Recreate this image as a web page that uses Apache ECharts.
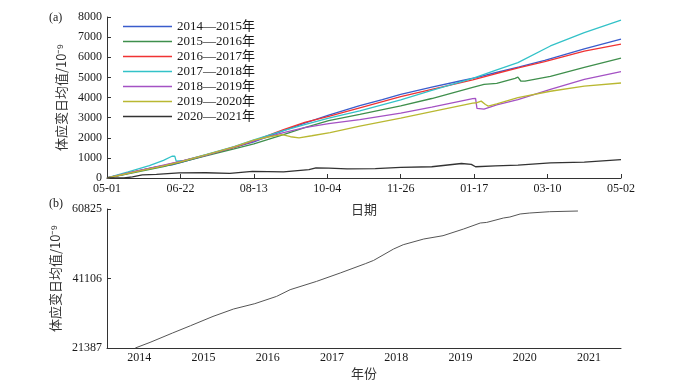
<!DOCTYPE html>
<html>
<head>
<meta charset="utf-8">
<script src="https://cdn.jsdelivr.net/npm/echarts@6/dist/echarts.min.js"></script>
<style>
  html, body { margin: 0; padding: 0; background: #fff; }
  #chart { width: 673px; height: 390px; }
</style>
</head>
<body>
<div id="chart"></div>
<script>
// (a) 各年度体应变日均值累积, x 为自 05-01 起的天数
const dayTicks = ['05-01', '06-22', '08-13', '10-04', '11-26', '01-17', '03-10', '05-02']
const tickStep = 52
const seasonNames = ['2014—2015年', '2015—2016年', '2016—2017年', '2017—2018年', '2018—2019年', '2019—2020年', '2020—2021年']
const seasonColors = ['#3a5ccc', '#3f8f4c', '#f03333', '#33c2c8', '#a452c4', '#b9b832', '#333333']

const s1415 = [[0, 0], [15, 230], [30, 480], [36, 560], [40, 600], [46, 650], [52, 760], [70, 1130], [90, 1520], [104, 1790], [125, 2350], [140, 2730], [157, 3130], [179, 3600], [195, 3900], [208, 4160], [230, 4520], [250, 4820], [262, 5000], [275, 5230], [292, 5520], [310, 5850], [338, 6420], [364, 6900]]
const s1516 = [[0, 0], [20, 280], [40, 560], [52, 780], [70, 1100], [90, 1450], [104, 1700], [125, 2150], [140, 2500], [157, 2850], [179, 3160], [208, 3580], [230, 3950], [259, 4500], [267, 4650], [276, 4700], [289, 4950], [291, 5010], [293, 4820], [296, 4810], [314, 5050], [338, 5500], [364, 5960]]
const s1617 = [[0, 0], [20, 330], [40, 620], [52, 820], [70, 1150], [90, 1520], [104, 1850], [125, 2400], [140, 2760], [157, 3060], [179, 3490], [208, 4040], [230, 4400], [259, 4870], [275, 5180], [292, 5480], [310, 5780], [338, 6300], [364, 6650]]
const s1718 = [[0, 0], [15, 300], [30, 620], [40, 880], [46, 1080], [48, 1090], [49, 840], [55, 880], [70, 1160], [90, 1560], [104, 1900], [125, 2350], [140, 2650], [157, 2980], [179, 3330], [208, 3880], [230, 4350], [259, 4950], [275, 5350], [291, 5730], [314, 6560], [338, 7220], [364, 7850]]
const s1819 = [[0, 0], [20, 330], [40, 640], [52, 830], [70, 1130], [90, 1550], [104, 1850], [125, 2250], [140, 2500], [157, 2700], [179, 2900], [208, 3220], [230, 3520], [259, 3940], [261, 3960], [262, 3460], [267, 3420], [276, 3630], [291, 3900], [314, 4400], [338, 4900], [364, 5290]]
const s1920 = [[0, 0], [20, 300], [40, 600], [52, 800], [70, 1150], [90, 1550], [104, 1880], [115, 2050], [124, 2160], [130, 2050], [136, 1990], [145, 2100], [158, 2260], [179, 2580], [208, 2970], [230, 3300], [259, 3720], [262, 3740], [265, 3820], [268, 3650], [270, 3570], [276, 3680], [291, 3990], [314, 4310], [338, 4570], [364, 4720]]
const s2021 = [[0, 0], [12, 0], [18, 60], [25, 160], [35, 180], [51, 250], [70, 260], [87, 230], [103, 330], [125, 300], [143, 420], [148, 505], [157, 490], [170, 450], [190, 470], [208, 525], [230, 560], [251, 720], [258, 680], [261, 560], [275, 600], [291, 640], [314, 755], [338, 785], [364, 910]]
const seasonData = [s1415, s1516, s1617, s1718, s1819, s1920, s2021]

// (b) 年份序列
const yearLabels = ['2014', '2015', '2016', '2017', '2018', '2019', '2020', '2021']
const bTicks = [21387, 41106, 60825]
const cumulative = [[2014.44, 21387], [2014.67, 22980], [2015.02, 25640], [2015.3, 27710], [2015.65, 30350], [2015.97, 32450], [2016.3, 33960], [2016.64, 36030], [2016.85, 37930], [2017.26, 40280], [2017.63, 42670], [2018.02, 45300], [2018.15, 46240], [2018.46, 49470], [2018.61, 50690], [2018.93, 52310], [2019.23, 53250], [2019.26, 52880], [2019.55, 55150], [2019.81, 56850], [2019.91, 57020], [2020.17, 58270], [2020.27, 58550], [2020.43, 59410], [2020.58, 59690], [2020.89, 60060], [2021.33, 60250]]

const serif = "'Liberation Serif', 'Noto Sans CJK SC', serif"
const cjk = "'Noto Sans CJK SC', sans-serif"
const axisColor = '#333'
const textColor = '#1a1a1a'
const plain = (v) => String(v)

const chart = echarts.init(document.getElementById('chart'))

const option = {
  animation: false,
  backgroundColor: '#fff',
  title: [
    { text: '(a)', left: 44, top: 7, textStyle: { fontFamily: serif, fontSize: 12, fontWeight: 'normal', color: textColor } },
    { text: '(b)', left: 44, top: 193, textStyle: { fontFamily: serif, fontSize: 12, fontWeight: 'normal', color: textColor } },
  ],
  legend: {
    orient: 'vertical',
    left: 123,
    top: 20,
    padding: 0,
    icon: 'rect',
    itemWidth: 49,
    itemHeight: 1.5,
    itemGap: 2,
    data: seasonNames,
    textStyle: { fontFamily: serif, fontSize: 13, lineHeight: 13, color: textColor },
  },
  grid: [
    { left: 107, right: 52, top: 17, height: 161 },
    { left: 107, right: 52, top: 209, height: 139 },
  ],
  xAxis: [
    {
      type: 'value',
      gridIndex: 0,
      min: 0,
      max: tickStep * (dayTicks.length - 1),
      interval: tickStep,
      name: '日期',
      nameLocation: 'middle',
      nameGap: 25,
      nameTextStyle: { fontFamily: cjk, fontSize: 13, color: '#333' },
      axisLine: { lineStyle: { color: axisColor } },
      axisTick: { inside: true, length: 4, lineStyle: { color: axisColor } },
      axisLabel: {
        margin: 5,
        fontFamily: serif,
        fontSize: 12,
        color: textColor,
        formatter: (v) => dayTicks[Math.round(v / tickStep)],
      },
      splitLine: { show: false },
    },
    {
      type: 'category',
      gridIndex: 1,
      data: yearLabels,
      boundaryGap: true,
      name: '年份',
      nameLocation: 'middle',
      nameGap: 19,
      nameTextStyle: { fontFamily: cjk, fontSize: 13, color: '#333' },
      axisLine: { lineStyle: { color: axisColor } },
      axisTick: { inside: true, length: 4, lineStyle: { color: axisColor } },
      axisLabel: { margin: 4, fontFamily: serif, fontSize: 12, color: textColor },
      splitLine: { show: false },
    },
    {
      type: 'value',
      gridIndex: 1,
      min: 2014,
      max: 2022,
      show: false,
    },
  ],
  yAxis: [
    {
      type: 'value',
      gridIndex: 0,
      min: 0,
      max: 8000,
      interval: 1000,
      name: '体应变日均值/10⁻⁹',
      nameLocation: 'middle',
      nameGap: 34,
      nameTextStyle: { fontFamily: cjk, fontSize: 13, color: '#333' },
      axisLine: { show: true, lineStyle: { color: axisColor } },
      axisTick: { show: true, inside: true, length: 4, lineStyle: { color: axisColor } },
      axisLabel: { margin: 5, fontFamily: serif, fontSize: 12, color: textColor, formatter: plain },
      splitLine: { show: false },
    },
    {
      type: 'value',
      gridIndex: 1,
      min: bTicks[0],
      max: bTicks[bTicks.length - 1],
      name: '体应变日均值/10⁻⁹',
      nameLocation: 'middle',
      nameGap: 40,
      nameTextStyle: { fontFamily: cjk, fontSize: 13, color: '#333' },
      axisLine: { show: true, lineStyle: { color: axisColor } },
      axisTick: { show: true, inside: true, length: 4, customValues: bTicks, lineStyle: { color: axisColor } },
      axisLabel: { margin: 5, fontFamily: serif, fontSize: 12, color: textColor, customValues: bTicks, formatter: plain },
      splitLine: { show: false },
    },
  ],
  series: [
    ...seasonNames.map((name, i) => ({
      name,
      type: 'line',
      xAxisIndex: 0,
      yAxisIndex: 0,
      data: seasonData[i],
      symbol: 'none',
      color: seasonColors[i],
      lineStyle: { width: 1.3, color: seasonColors[i] },
    })),
    {
      name: 'cumulative',
      type: 'line',
      xAxisIndex: 2,
      yAxisIndex: 1,
      data: cumulative,
      symbol: 'none',
      lineStyle: { width: 1, color: '#555' },
    },
  ],
}

chart.setOption(option)
</script>
</body>
</html>
